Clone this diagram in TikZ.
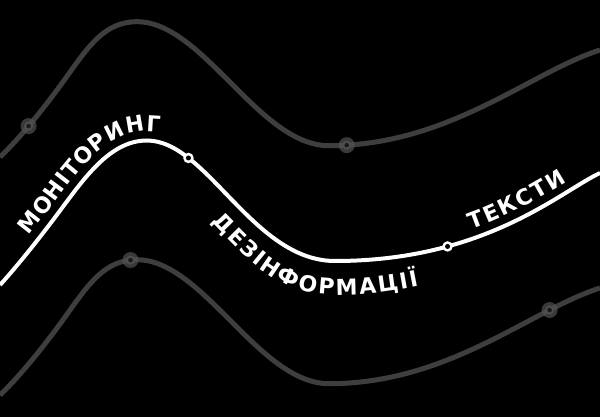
\documentclass[tikz,border=0pt]{standalone}
\usepackage{fontspec}
\setmainfont{DejaVu Sans}
\newfontfamily\lblfamily{DejaVu Sans Bold}
\newcommand\lblfont{\lblfamily\fontsize{22pt}{22pt}\selectfont}
\usetikzlibrary{decorations.text}
\definecolor{linegray}{RGB}{62,62,62}
\definecolor{halogray}{RGB}{82,82,82}
\definecolor{ringgray}{RGB}{78,78,78}
\definecolor{dotcore}{RGB}{26,26,26}
\tikzset{
  grayline/.style={draw=linegray, line width=5pt},
  whiteline/.style={draw=white, line width=4pt},
  halo/.style={circle, fill=halogray, fill opacity=0.7, minimum size=16pt, inner sep=0pt},
  grayring/.style={circle, fill=ringgray, minimum size=9pt, inner sep=0pt},
  graycore/.style={circle, fill=dotcore, minimum size=4.6pt, inner sep=0pt},
  whitering/.style={circle, fill=white, minimum size=10.5pt, inner sep=0pt},
  whitecore/.style={circle, fill=black, minimum size=5pt, inner sep=0pt},
  curvelabel/.style={decorate, decoration={text along path, text color=white,
    text={|\lblfont|#1}, text align={fit to path}}},
}
\begin{document}
\lblfont
\begin{tikzpicture}[x=1pt,y=-1pt]
\useasboundingbox (0,0) rectangle (600,417);
\fill[black] (0,0) rectangle (600,417);
\clip (0,0) rectangle (600,417);
% top gray curve
\draw[grayline] (0,157) .. controls (22,136) and (46.7,104.7) .. (66.7,76.7) coordinate[pos=0.42] (gt1)
  .. controls (88.7,45.9) and (105,21.7) .. (137,21.7)
  .. controls (203,21.7) and (259,145.7) .. (329,145.7)
  .. controls (449,145.7) and (530,72.4) .. (600,50) coordinate[pos=0.05] (gt2);
% bottom gray curve
\draw[grayline] (0,395) .. controls (22,374) and (46.7,342.7) .. (66.7,314.7)
  .. controls (88.7,283.9) and (105,259.7) .. (137,259.7) coordinate[pos=0.93] (gb1)
  .. controls (203,259.7) and (259,383.7) .. (329,383.7)
  .. controls (449,383.7) and (530,310.4) .. (600,288) coordinate[pos=0.77] (gb2);
\foreach \p in {gt1,gt2,gb1,gb2}{
  \node[halo] (h\p) at (\p) {};
  \node[grayring] (r\p) at (\p) {};
  \node[graycore] (c\p) at (\p) {};
}
% white curve
\draw[whiteline] (0,285) .. controls (20,263) and (45,231) .. (62,208)
  .. controls (87,174.25) and (112,140.5) .. (147,140.5)
  .. controls (207,140.5) and (253,261) .. (335,261) coordinate[pos=0.24] (w1)
  .. controls (485,261) and (560,191.8) .. (600,173) coordinate[pos=0.29] (w2);
\foreach \p in {w1,w2}{
  \node[whitering] (r\p) at (\p) {};
  \node[whitecore] (c\p) at (\p) {};
}
% label baselines (parallel to the white curve)
\path[curvelabel=МОНІТОРИНГ]
  (28.9,235.9) .. controls (35.2,228.1) and (48.9,210.6) .. (54.8,202.6)
  .. controls (79.8,168.85) and (106,131.5) .. (147,131.5) -- (160,132.3);
\path[curvelabel=ДЕЗІНФОРМАЦІЇ]
  (211,222) .. controls (247.4,258.9) and (276,295) .. (338,295)
  .. controls (368,295) and (394.5,291) .. (419,286);
\path[curvelabel=ТЕКСТИ]
  (471.3,229.6) .. controls (504.3,218) and (537,200) .. (566.8,181.7);
\end{tikzpicture}
\end{document}
